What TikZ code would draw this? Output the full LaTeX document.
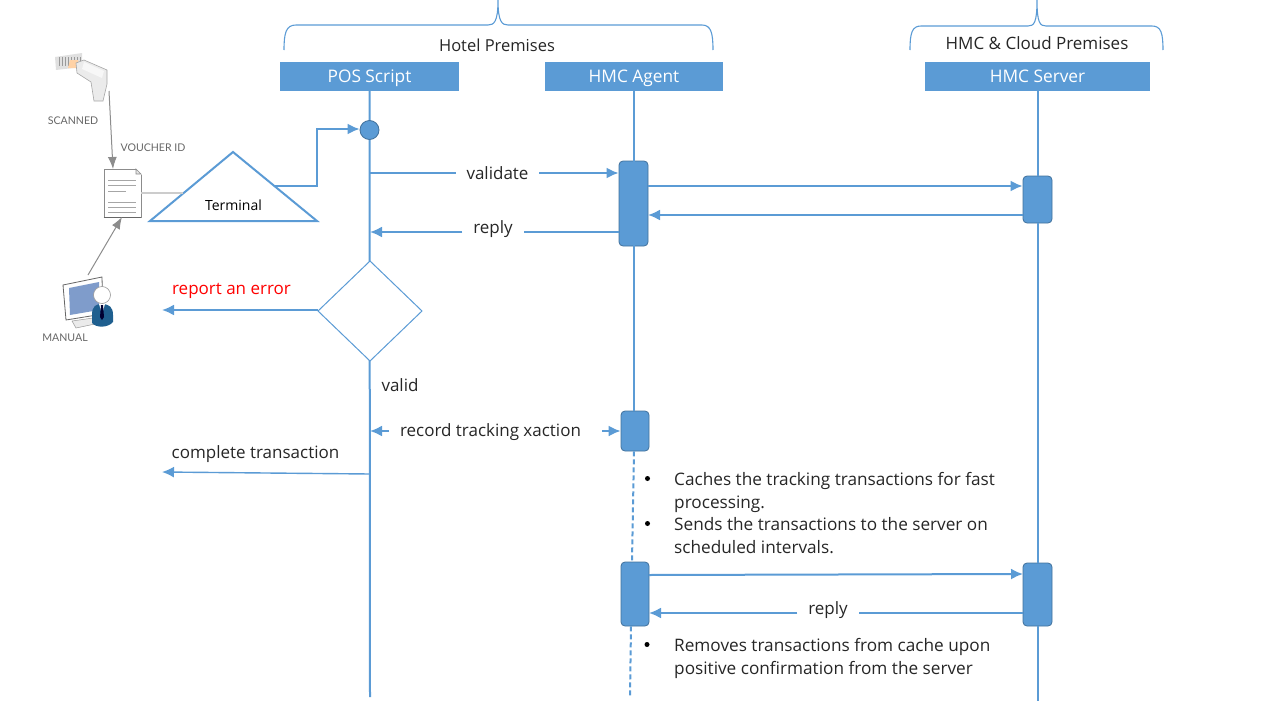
\documentclass[tikz,border=0pt]{standalone}
\usepackage{fontspec}
\setmainfont{Open Sans}
\newfontfamily\iconfont{Lato}
\usetikzlibrary{arrows.meta,calc}
\definecolor{flowblue}{HTML}{5B9BD5}
\definecolor{barline}{HTML}{41719C}
\definecolor{suit}{HTML}{1F5F8F}
\definecolor{screen}{HTML}{7F9CCB}
\tikzset{
  header/.style={fill=flowblue,text=white,minimum height=29pt,inner sep=0pt,text height=16.5pt,text depth=4pt,font=\fontsize{17.3}{20}\selectfont},
  activebar/.style={fill=flowblue,draw=barline,line width=0.8pt,rounded corners=4pt,minimum width=29pt,inner sep=0pt},
  flow/.style={draw=flowblue,line width=2pt,-{Latex[length=12pt,width=11pt]}},
  life/.style={draw=flowblue,line width=2pt},
  bracket/.style={draw=flowblue,line width=1.1pt},
  msg/.style={font=\fontsize{17}{20}\selectfont,text=black!85,inner sep=0pt,outer xsep=11pt},
  note/.style={font=\fontsize{17.2}{22.5}\selectfont,text=black!85,inner sep=0pt,align=left,anchor=north west},
  dot/.style={circle,fill=black,inner sep=0pt,minimum size=5pt},
  tag/.style={font=\iconfont\fontsize{10.6}{12}\selectfont,text=black!60,inner sep=0pt},
  grayflow/.style={draw=black!45,line width=1pt,-{Latex[length=12pt,width=9pt]}}
}
\begin{document}
\begin{tikzpicture}[x=1pt,y=-1pt]
  \useasboundingbox (0,0) rectangle (1280,720);

  % headers
  \node[header,minimum width=179pt] (pos) at (369.5,76.5) {POS Script};
  \node[header,minimum width=178pt] (agent) at (634,76.5) {HMC Agent};
  \node[header,minimum width=225pt] (server) at (1037.5,76.5) {HMC Server};

  % premises brackets
  \draw[bracket] (284,50) .. controls (284,33) and (286,25) .. (296,25) -- (488,25) .. controls (494,25) and (498,22) .. (498,0)
     .. controls (498,22) and (502,25) .. (508,25) -- (702,25) .. controls (711,25) and (713,33) .. (713,50);
  \draw[bracket] (910,50) .. controls (910,33) and (912,26) .. (921,26) -- (1028,26) .. controls (1034,26) and (1037,23) .. (1037,0)
     .. controls (1037,23) and (1040,26) .. (1046,26) -- (1152,26) .. controls (1161,26) and (1163,33) .. (1163,50);
  \node[msg,font=\fontsize{16.5}{20}\selectfont] (hotel) at (497,45.5) {Hotel Premises};
  \node[msg] (cloud) at (1037,43.5) {HMC \& Cloud Premises};

  % activation bars
  \node[activebar,minimum height=85pt] (bar1) at (633.5,203.5) {};
  \node[activebar,minimum height=47pt] (srv1) at (1037.5,199.5) {};
  \node[activebar,minimum height=40pt,minimum width=28pt] (bar2) at (635,431) {};
  \node[activebar,minimum height=64pt,minimum width=28pt] (bar3) at (635,594) {};
  \node[activebar,minimum height=63pt] (srv2) at (1037.5,594.5) {};

  % lifelines
  \coordinate (posend) at (370,697);
  \coordinate (srvend) at (1037.5,701);
  \coordinate (agentend) at (630,696);
  \draw[life] (pos.south) -- (posend);
  \draw[life] (agent.south) -- (agent.south |- bar2.north);
  \draw[life,dash pattern=on 5pt off 3pt] ($(bar2.south)+(-1,0)$) -- ($(bar3.north)+(-3,0)$);
  \draw[life,dash pattern=on 5pt off 3pt] ($(bar3.south)+(-4,0)$) -- (agentend);
  \draw[life] (server.south) -- (srv1.north);
  \draw[life] (srv1.south) -- (srv2.north);
  \draw[life] (srv2.south) -- (srvend);

  % start point and terminal
  \node[circle,fill=flowblue,draw=barline,line width=0.8pt,minimum size=19pt,inner sep=0pt] (start) at (369.5,130) {};
  \coordinate (apex) at (233,152);
  \coordinate (baseleft) at (150,221);
  \coordinate (baseright) at (317,221);
  \coordinate (termout) at (275,186);
  \coordinate (termin) at (183,193);
  \draw[draw=flowblue,line width=2pt,line join=miter,fill=white] (apex) -- (baseright) -- (baseleft) -- cycle;
  \node[font=\fontsize{14}{16}\selectfont,text=black,inner sep=0pt] (terminal) at (233.5,205) {Terminal};
  \draw[flow] (termout) -- (317,186) -- (317,129) -- (start.west |- 0,129);

  % decision
  \coordinate (dleft) at (318,311);
  \coordinate (dtop) at (370,261);
  \coordinate (dright) at (422,311);
  \coordinate (dbottom) at (370,361);
  \draw[draw=flowblue,line width=1pt,fill=white] (dtop) -- (dright) -- (dbottom) -- (dleft) -- cycle;
  \node[msg] (valid) at (400,385) {valid};
  \coordinate (errend) at (162,310);
  \draw[flow] (dleft |- errend) -- (errend);
  \node[msg,text=red] (err) at (231.5,290.5) {report an error};

  % messages
  \node[msg] (validate) at (497.5,173) {validate};
  \coordinate (p1) at (370,173);
  \draw[life] (p1) -- (validate.west);
  \draw[flow] (validate.east) -- (bar1.west |- p1);

  \node[msg] (reply1) at (493,229) {reply};
  \coordinate (p2) at (370,232);
  \draw[flow] (reply1.west |- p2) -- (p2);
  \draw[life] (bar1.west |- p2) -- (reply1.east |- p2);

  \coordinate (a1) at (648,186);
  \coordinate (a2) at (648,215);
  \draw[flow] (a1) -- (srv1.west |- a1);
  \draw[flow] (srv1.west |- a2) -- (a2);

  \node[msg] (record) at (490.5,432) {record tracking xaction};
  \coordinate (p3) at (370,431);
  \coordinate (p3b) at (602,431);
  \draw[flow] (record.west |- p3) -- (p3);
  \draw[flow] (p3b) -- (bar2.west);

  \node[msg] (complete) at (255.5,454) {complete transaction};
  \coordinate (p4) at (370,474);
  \coordinate (compend) at (162,472);
  \draw[flow,line width=1.4pt] (p4) -- (compend);

  \coordinate (a3) at (649,575);
  \coordinate (a4) at (1023,574);
  \draw[flow] (a3) -- (a4);
  \node[msg] (reply2) at (828,610) {reply};
  \coordinate (a5) at (649,613);
  \draw[flow] (reply2.west |- a5) -- (a5);
  \draw[life] (srv2.west |- a5) -- (reply2.east |- a5);

  % notes
  \node[dot] (b1) at (647.5,478.5) {};
  \node[note] (n1) at (674,472.5) {Caches the tracking transactions for fast\\processing.};
  \node[dot] (b2) at (647.5,523.5) {};
  \node[note] (n2) at (674,517.5) {Sends the transactions to the server on\\scheduled intervals.};
  \node[dot] (b3) at (647,644.5) {};
  \node[note] (n3) at (674,638.5) {Removes transactions from cache upon\\positive confirmation from the server};

  % scanner
  \fill[black!12] (55,57) -- (82,53) -- (82,67) -- (56,70) -- cycle;
  \foreach \bx in {59,62,...,80} \draw[black!40,line width=0.8pt] (\bx,57) -- (\bx,66);
  \fill[orange!35] (70,60) -- (78,60) -- (80,68) -- (68,68) -- cycle;
  \fill[black!8,draw=black!35,line width=0.6pt] (76,63) -- (84,60) -- (107,70) -- (107,84) -- (103,101) -- (94,101) -- (91,82) -- (77,73) -- cycle;
  \fill[black!3] (84,62) -- (104,71) -- (102,78) -- (82,69) -- cycle;
  \node[tag] (scanned) at (73,120.5) {SCANNED};
  \node[tag] (voucher) at (153,148) {VOUCHER ID};
  \coordinate (scanout) at (109,91);

  % document
  \node[draw=black!45,fill=white,line width=0.7pt,minimum width=37pt,minimum height=48pt,inner sep=0pt] (doc) at (122.5,193) {};
  \draw[black!60,line width=1.4pt] (doc.south west) -- (doc.south east);
  \fill[white] (135,168) -- (142,168) -- (142,175) -- cycle;
  \draw[black!45,line width=0.7pt,fill=black!10] (136,169) -- (136,174) -- (141,174) -- cycle;
  \foreach \ly/\lx in {183/136,188/136,194/126,205/136,210/136,215/136}
    \draw[black!35,line width=1pt] (108,\ly-3) -- (\lx,\ly-3);
  \coordinate (docin) at (113,169);
  \draw[grayflow] (scanout) -- (docin);
  \draw[draw=black!20,line width=1.5pt] (doc.east) -- (termin);

  % manual operator
  \fill[white,draw=black!60,line width=0.8pt] (63,285) -- (102,277) -- (103,314) -- (66,320) -- cycle;
  \fill[screen] (69,288) -- (99,282) -- (99,310) -- (70,315) -- cycle;
  \fill[black!8,draw=black!40,line width=0.5pt] (72,321) -- (93,318) -- (95,324) -- (76,328) -- cycle;
  \fill[suit] (92,315) .. controls (92,306) and (96,304) .. (102,304) .. controls (109,304) and (113,307) .. (113,315) -- (113,322) .. controls (108,328) and (96,328) .. (92,323) -- cycle;
  \fill[white] (99,304) -- (105,304) -- (102,314) -- cycle;
  \fill[black!80!blue] (101,305) -- (103,305) -- (104,317) -- (102,320) -- (100,317) -- cycle;
  \node[circle,draw=black!40,fill=white,line width=0.6pt,minimum size=17pt,inner sep=0pt] (head) at (102,295) {};
  \node[tag] (manual) at (65,338) {MANUAL};
  \coordinate (manout) at (88,275);
  \coordinate (docout) at (122,217);
  \draw[grayflow] (manout) -- (docout);
\end{tikzpicture}
\end{document}
